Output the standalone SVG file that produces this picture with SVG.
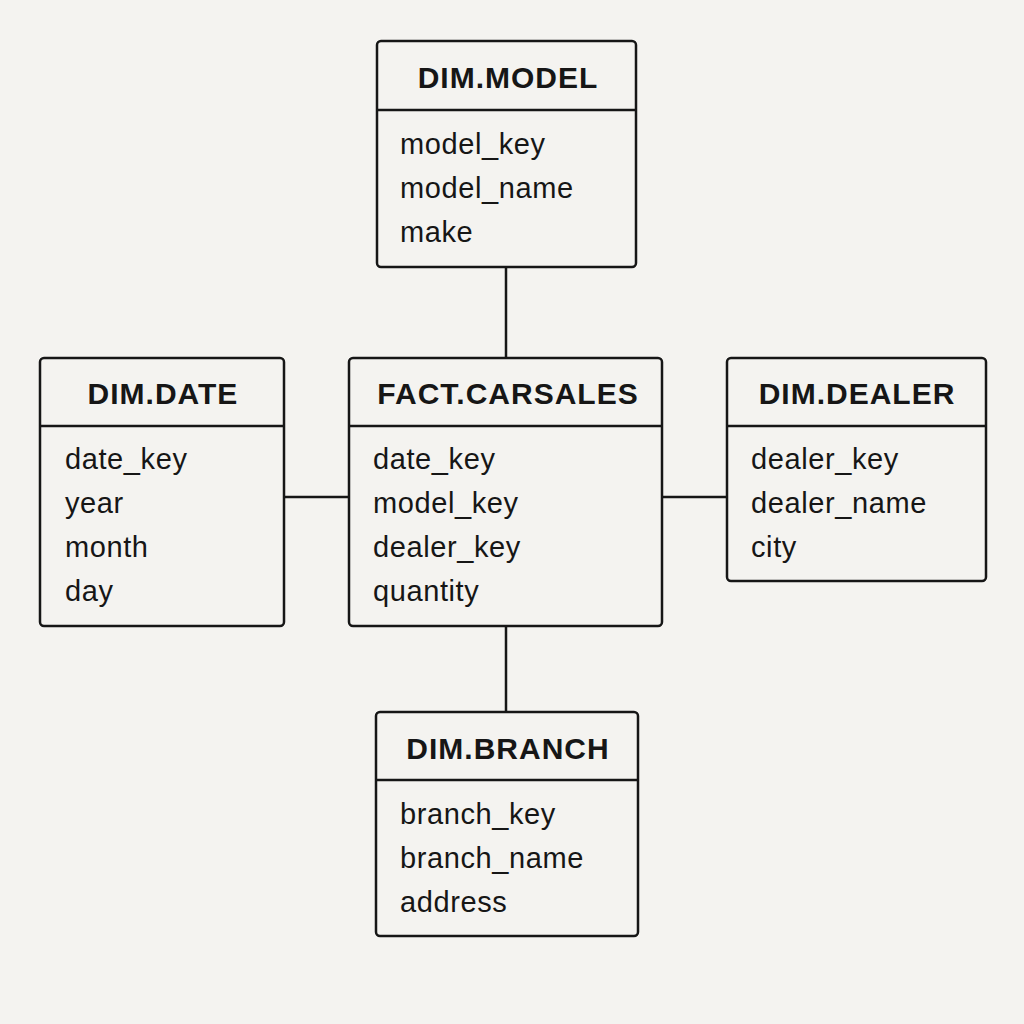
<svg xmlns="http://www.w3.org/2000/svg" width="1024" height="1024" viewBox="0 0 1024 1024">
<style>
.box{fill:#f4f3f0;stroke:#161616;stroke-width:2.5}
.div{stroke:#161616;stroke-width:2.5}
.conn{stroke:#161616;stroke-width:2.5;fill:none}
.title{font-family:"Liberation Sans",Arial,sans-serif;font-weight:bold;font-size:30px;letter-spacing:1px;fill:#161616;text-anchor:middle}
.field{font-family:"Liberation Sans",Arial,sans-serif;font-size:29px;letter-spacing:0.6px;fill:#161616}
</style>
<rect width="1024" height="1024" fill="#f4f3f0"/>
<g id="connectors">
<line class="conn" x1="506" y1="267" x2="506" y2="358"/>
<line class="conn" x1="506" y1="626" x2="506" y2="712"/>
<line class="conn" x1="284" y1="497" x2="349" y2="497"/>
<line class="conn" x1="662" y1="497" x2="727" y2="497"/>
</g>
<g id="dim_model">
<rect class="box" x="377" y="41" width="259" height="226" rx="4"/>
<line class="div" x1="377" y1="110" x2="636" y2="110"/>
<text class="title" x="508" y="88">DIM.MODEL</text>
<text class="field" x="400" y="154">model_key</text>
<text class="field" x="400" y="198">model_name</text>
<text class="field" x="400" y="242">make</text>
</g>
<g id="dim_date">
<rect class="box" x="40" y="358" width="244" height="268" rx="4"/>
<line class="div" x1="40" y1="426" x2="284" y2="426"/>
<text class="title" x="163" y="404">DIM.DATE</text>
<text class="field" x="65" y="469">date_key</text>
<text class="field" x="65" y="513">year</text>
<text class="field" x="65" y="557">month</text>
<text class="field" x="65" y="601">day</text>
</g>
<g id="fact_carsales">
<rect class="box" x="349" y="358" width="313" height="268" rx="4"/>
<line class="div" x1="349" y1="426" x2="662" y2="426"/>
<text class="title" x="508" y="404">FACT.CARSALES</text>
<text class="field" x="373" y="469">date_key</text>
<text class="field" x="373" y="513">model_key</text>
<text class="field" x="373" y="557">dealer_key</text>
<text class="field" x="373" y="601">quantity</text>
</g>
<g id="dim_dealer">
<rect class="box" x="727" y="358" width="259" height="223" rx="4"/>
<line class="div" x1="727" y1="426" x2="986" y2="426"/>
<text class="title" x="857" y="404">DIM.DEALER</text>
<text class="field" x="751" y="469">dealer_key</text>
<text class="field" x="751" y="513">dealer_name</text>
<text class="field" x="751" y="557">city</text>
</g>
<g id="dim_branch">
<rect class="box" x="376" y="712" width="262" height="224" rx="4"/>
<line class="div" x1="376" y1="780" x2="638" y2="780"/>
<text class="title" x="508" y="759">DIM.BRANCH</text>
<text class="field" x="400" y="824">branch_key</text>
<text class="field" x="400" y="868">branch_name</text>
<text class="field" x="400" y="912">address</text>
</g>
</svg>
